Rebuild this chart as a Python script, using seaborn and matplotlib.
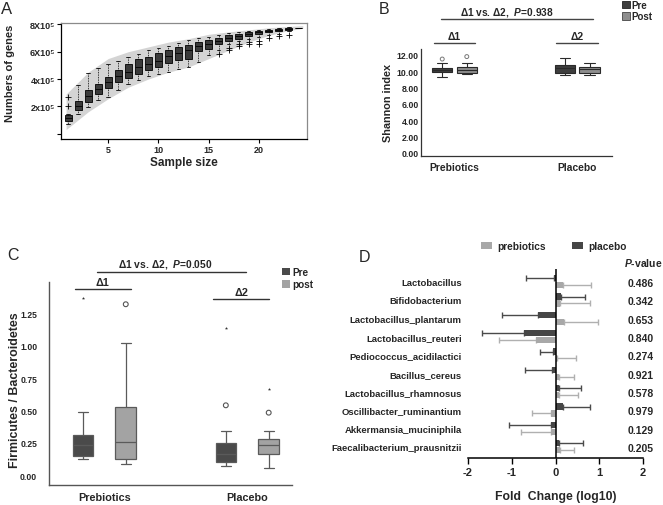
import numpy as np
import pandas as pd
import matplotlib
matplotlib.use("Agg")
import matplotlib.pyplot as plt
import seaborn as sns
from matplotlib.patches import Patch

# ---------------- Panel A data (numbers of genes, units of 1e5) ----------------
sample_size = list(range(1, 25))
a_lo  = [0.72, 1.46, 1.95, 2.45, 2.70, 3.20, 3.60, 3.90, 4.20, 4.40, 4.55, 4.70,
         4.88, 5.24, 5.75, 6.10, 6.58, 6.78, 6.95, 7.07, 7.19, 7.32, 7.50, 7.76]
a_q1  = [0.95, 1.71, 2.34, 2.88, 3.37, 3.80, 4.10, 4.40, 4.65, 4.90, 5.20, 5.36,
         5.49, 6.03, 6.22, 6.58, 6.78, 6.95, 7.12, 7.27, 7.41, 7.51, 7.60, 7.76]
a_med = [1.15, 2.00, 2.73, 3.30, 3.78, 4.20, 4.55, 4.85, 5.10, 5.35, 5.65, 5.90,
         6.10, 6.39, 6.58, 6.78, 7.00, 7.14, 7.30, 7.41, 7.50, 7.60, 7.68, 7.76]
a_q3  = [1.33, 2.39, 3.17, 3.66, 4.15, 4.63, 5.10, 5.45, 5.60, 5.90, 6.10, 6.34,
         6.46, 6.70, 6.88, 7.02, 7.20, 7.30, 7.44, 7.50, 7.60, 7.68, 7.75, 7.76]
a_hi  = [1.46, 3.54, 4.44, 4.80, 5.10, 5.35, 5.60, 5.85, 6.10, 6.25, 6.45, 6.65,
         6.83, 7.00, 7.10, 7.25, 7.40, 7.45, 7.55, 7.60, 7.68, 7.74, 7.80, 7.76]
a_out_size  = [1, 1, 16, 17, 17, 18, 18, 19, 19, 20, 20, 21, 22, 23]
a_out_genes = [2.00, 2.72, 5.80, 6.29, 6.10, 6.58, 6.39, 6.73, 6.58, 6.78, 6.58,
               6.97, 7.12, 7.22]
band_size = [0.8, 3, 5, 7, 9, 11, 13, 15, 17, 19, 21, 23, 24.4]
band_lo   = [0.30, 1.60, 2.56, 3.40, 4.00, 4.50, 4.88, 5.49, 6.10, 6.70, 7.19, 7.56, 7.70]
band_hi   = [2.90, 4.50, 5.50, 6.00, 6.35, 6.70, 6.95, 7.27, 7.45, 7.60, 7.75, 7.85, 7.90]
a_ytick_vals = [0, 2, 4, 6, 8]
a_ytick_labels = ["", "2x10\u2075", "4x10\u2075", "6X10\u2075", "8X10\u2075"]
a_xticks = [5, 10, 15, 20]

# ---------------- Panel B data (Shannon index) ----------------
groups = ["Prebiotics", "Placebo"]
b_group = ["Prebiotics", "Prebiotics", "Placebo", "Placebo"]
b_time  = ["Pre", "Post", "Pre", "Post"]
b_lo  = [9.25, 9.73, 9.60, 9.56]
b_q1  = [9.95, 9.85, 9.85, 9.85]
b_med = [10.20, 10.17, 10.38, 10.26]
b_q3  = [10.45, 10.58, 10.78, 10.58]
b_hi  = [11.00, 11.00, 11.60, 11.03]
b_out_group = ["Prebiotics", "Prebiotics"]
b_out_time  = ["Pre", "Post"]
b_out_val   = [11.5, 11.8]
b_yticks = [0, 2, 4, 6, 8, 10, 12]
b_title = "\u03941 vs. \u03942,  $\\mathit{P}$=0.938"

# ---------------- Panel C data (Firmicutes / Bacteroidetes) ----------------
c_group = ["Prebiotics", "Prebiotics", "Placebo", "Placebo"]
c_time  = ["Pre", "post", "Pre", "post"]
c_lo  = [0.121, 0.085, 0.070, 0.052]
c_q1  = [0.147, 0.121, 0.101, 0.165]
c_med = [0.230, 0.255, 0.160, 0.235]
c_q3  = [0.312, 0.526, 0.245, 0.276]
c_hi  = [0.487, 1.024, 0.343, 0.343]
c_circ_group = ["Prebiotics", "Placebo", "Placebo"]
c_circ_time  = ["post", "Pre", "post"]
c_circ_val   = [1.32, 0.539, 0.482]
c_star_group = ["Prebiotics", "Placebo", "Placebo"]
c_star_time  = ["Pre", "Pre", "post"]
c_star_val   = [1.372, 1.137, 0.665]
c_yticks = [0, 0.25, 0.5, 0.75, 1.0, 1.25]
c_title = "\u03941 vs. \u03942,  $\\mathit{P}$=0.050"

# ---------------- Panel D data (fold change, log10) ----------------
taxa = ["Lactobacillus", "Bifidobacterium", "Lactobacillus_plantarum",
        "Lactobacillus_reuteri", "Pediococcus_acidilactici", "Bacillus_cereus",
        "Lactobacillus_rhamnosus", "Oscillibacter_ruminantium",
        "Akkermansia_muciniphila", "Faecalibacterium_prausnitzii"]
fc_placebo    = [-0.03, 0.13, -0.40, -0.72, -0.06, -0.07, 0.07, 0.17, -0.11, 0.08]
err_placebo   = [0.65, 0.54, 0.82, 0.97, 0.30, 0.62, 0.51, 0.62, 0.96, 0.55]
fc_prebiotics = [0.17, 0.11, 0.20, -0.44, 0.03, 0.08, 0.07, -0.11, -0.11, 0.11]
err_prebiotics= [0.63, 0.68, 0.78, 0.86, 0.43, 0.34, 0.44, 0.42, 0.67, 0.32]
p_values = ["0.486", "0.342", "0.653", "0.840", "0.274", "0.921", "0.578",
            "0.979", "0.129", "0.205"]
d_xticks = [-2, -1, 0, 1, 2]

# ---------------- style ----------------
sns.set_theme(style="ticks")
plt.rcParams['font.family'] = ['Liberation Sans', 'DejaVu Sans']
plt.rcParams['font.weight'] = 'bold'
plt.rcParams['axes.unicode_minus'] = False
plt.rcParams['mathtext.fontset'] = 'custom'
plt.rcParams['mathtext.it'] = 'Liberation Sans:italic:bold'
plt.rcParams['mathtext.rm'] = 'Liberation Sans:bold'
plt.rcParams['mathtext.bf'] = 'Liberation Sans:bold'

W, H = 663, 506
fig = plt.figure(figsize=(W / 100, H / 100), dpi=100)
fig.patch.set_facecolor('white')


def add_ax(l, t, r, b):
    return fig.add_axes([l / W, 1 - b / H, (r - l) / W, (b - t) / H])


def ftext(x, y, s, **kw):
    return fig.text(x / W, 1 - y / H, s, **kw)


def five_num_frame(keys, cols, *stats):
    rows = []
    for i in range(len(stats[0])):
        for st in stats:
            rows.append(tuple(k[i] for k in keys) + (st[i],))
    return pd.DataFrame(rows, columns=cols)


def place_label(ax, axis, px, py, l, t, r, b):
    lab = ax.yaxis.label if axis == 'y' else ax.xaxis.label
    lab.set_verticalalignment('center')
    lab.set_horizontalalignment('center')
    coords = ((px - l) / (r - l), (b - py) / (b - t))
    (ax.yaxis if axis == 'y' else ax.xaxis).set_label_coords(*coords)


# ================= Panel A =================
A = (61, 24, 307, 140)
axA = add_ax(*A)
dfA = five_num_frame([sample_size], ["size", "genes"], a_lo, a_q1, a_med, a_q3, a_hi)
axA.fill_between(band_size, band_lo, band_hi, color='#d4d4d4', lw=0, zorder=0.5)
sns.boxplot(data=dfA, x="size", y="genes", native_scale=True, whis=(0, 100),
            width=0.72, color='#3a3a3a', saturation=1, linecolor='black',
            linewidth=0.6, fliersize=0,
            whiskerprops=dict(linestyle=(0, (1, 1))), ax=axA)
sns.scatterplot(x=a_out_size, y=a_out_genes, marker='+', color='black', s=14,
                linewidth=0.6, ax=axA, zorder=3)
axA.set_xlim(0.29, 24.82)
axA.set_ylim(-0.39, 8.1)
axA.set_yticks(a_ytick_vals)
axA.set_yticklabels(a_ytick_labels)
axA.set_xticks(a_xticks)
axA.set_xticklabels([str(v) for v in a_xticks])
axA.tick_params(axis='both', labelsize=6.5, length=3, width=0.8, pad=1.5, color='black')
for s in ['left', 'bottom']:
    axA.spines[s].set_color('black'); axA.spines[s].set_linewidth(0.9)
for s in ['top', 'right']:
    axA.spines[s].set_color('#8a8a8a'); axA.spines[s].set_linewidth(0.9)
axA.set_xlabel("Sample size", fontsize=8.5, fontweight='bold')
axA.set_ylabel("Numbers of genes", fontsize=8, fontweight='bold')
place_label(axA, 'x', 184, 163.5, *A)
place_label(axA, 'y', 10, 73, *A)
ftext(7, 9, "A", fontsize=12, fontweight='normal', ha='center', va='center')

# ================= Panel B =================
B = (421, 50, 612, 157)
axB = add_ax(*B)
dfB = five_num_frame([b_group, b_time], ["group", "time", "shannon"],
                     b_lo, b_q1, b_med, b_q3, b_hi)
wB = 0.4
sns.boxplot(data=dfB, x="group", y="shannon", hue="time", order=groups,
            hue_order=["Pre", "Post"], palette=['#3e3e3e', '#8e8e8e'],
            width=wB, gap=0.17, whis=(0, 100), saturation=1, linecolor='#2a2a2a',
            linewidth=0.8, fliersize=0, legend=False, ax=axB)
offB = {"Pre": -wB / 4, "Post": wB / 4}
bx = [groups.index(g) + offB[t] for g, t in zip(b_out_group, b_out_time)]
sns.scatterplot(x=bx, y=b_out_val, marker='o', facecolor='none', edgecolor='#777777',
                s=8, linewidth=0.7, ax=axB, zorder=3)
axB.set_xlim(-0.273, 1.283)
axB.set_ylim(-0.37, 12.73)
axB.set_yticks(b_yticks)
axB.set_yticklabels([f"{v:.2f}" for v in b_yticks])
axB.tick_params(axis='y', labelsize=6.3, length=0, pad=1.5)
axB.tick_params(axis='x', labelsize=7.4, length=0, pad=4)
sns.despine(ax=axB)
for s in ['left', 'bottom']:
    axB.spines[s].set_color('#333333'); axB.spines[s].set_linewidth(0.9)
axB.set_xlabel("")
axB.set_ylabel("Shannon index", fontsize=7.8, fontweight='bold')
place_label(axB, 'y', 388, 103, *B)
trB = axB.get_xaxis_transform()
for gi, lab in enumerate(["\u03941", "\u03942"]):
    axB.plot([gi - 0.17, gi + 0.17], [1.053, 1.053], color='#444444', lw=1,
             transform=trB, clip_on=False)
    axB.text(gi + 0.0, 1.118, lab, transform=trB, ha='center', va='center', fontsize=7.5)
axB.plot([-0.11, 1.125], [1.28, 1.28], color='#444444', lw=1, transform=trB, clip_on=False)
axB.text(0.43, 1.355, b_title, transform=trB, ha='center', va='center', fontsize=7.3)
fig.legend(handles=[Patch(facecolor='#3e3e3e', edgecolor='#222222', lw=0.6),
                    Patch(facecolor='#8e8e8e', edgecolor='#444444', lw=0.6)],
           labels=["Pre", "Post"], loc='upper left', bbox_to_anchor=(622 / W, 1 - 1 / H),
           frameon=False, fontsize=7, handlelength=0.8, handleheight=0.8,
           handletextpad=0.15, labelspacing=0.15, borderpad=0, borderaxespad=0)
ftext(384, 10, "B", fontsize=11.5, fontweight='normal', ha='center', va='center')

# ================= Panel C =================
C = (49, 283, 292, 486)
axC = add_ax(*C)
dfC = five_num_frame([c_group, c_time], ["group", "time", "ratio"],
                     c_lo, c_q1, c_med, c_q3, c_hi)
wC = 0.6
sns.boxplot(data=dfC, x="group", y="ratio", hue="time", order=groups,
            hue_order=["Pre", "post"], palette=['#4a4a4a', '#a3a3a3'],
            width=wC, gap=0.52, whis=(0, 100), saturation=1, linecolor='#5a5a5a',
            linewidth=0.9, fliersize=0, legend=False, ax=axC)
offC = {"Pre": -wC / 4, "post": wC / 4}
cx = [groups.index(g) + offC[t] for g, t in zip(c_circ_group, c_circ_time)]
sns.scatterplot(x=cx, y=c_circ_val, marker='o', facecolor='none', edgecolor='#555555',
                s=12, linewidth=0.8, ax=axC, zorder=3)
sx = [groups.index(g) + offC[t] for g, t in zip(c_star_group, c_star_time)]
sns.scatterplot(x=sx, y=c_star_val, marker='*', color='#333333', s=6,
                linewidth=0, ax=axC, zorder=3)
axC.set_xlim(-0.387, 1.313)
axC.set_ylim(-0.077, 1.492)
axC.set_yticks(c_yticks)
axC.set_yticklabels([f"{v:.2f}" for v in c_yticks])
axC.tick_params(axis='y', labelsize=6.2, length=0, pad=8.5)
axC.tick_params(axis='x', labelsize=7.8, length=0, pad=5)
sns.despine(ax=axC)
for s in ['left', 'bottom']:
    axC.spines[s].set_color('#555555'); axC.spines[s].set_linewidth(1.0)
axC.set_xlabel("")
axC.set_ylabel("Firmicutes / Bacteroidetes", fontsize=8.9, fontweight='bold')
place_label(axC, 'y', 15, 390, *C)
trC = axC.get_xaxis_transform()
axC.plot([-0.205, 0.185], [0.964, 0.964], color='#333333', lw=1, transform=trC, clip_on=False)
axC.text(-0.011, 0.999, "\u03941", transform=trC, ha='center', va='center', fontsize=7.8)
axC.plot([0.762, 1.154], [0.915, 0.915], color='#333333', lw=1, transform=trC, clip_on=False)
axC.text(0.961, 0.950, "\u03942", transform=trC, ha='center', va='center', fontsize=7.8)
axC.plot([-0.053, 0.989], [1.049, 1.049], color='#333333', lw=1, transform=trC, clip_on=False)
axC.text(0.429, 1.089, c_title, transform=trC, ha='center', va='center', fontsize=7.4)
fig.legend(handles=[Patch(facecolor='#4a4a4a', edgecolor='none'),
                    Patch(facecolor='#a3a3a3', edgecolor='none')],
           labels=["Pre", "post"], loc='upper left', bbox_to_anchor=(282 / W, 1 - 268 / H),
           frameon=False, fontsize=7.2, handlelength=0.75, handleheight=0.8,
           handletextpad=0.3, labelspacing=0.25, borderpad=0, borderaxespad=0)
ftext(13, 255, "C", fontsize=11.5, fontweight='normal', ha='center', va='center')

# ================= Panel D =================
D = (468, 270, 643, 459)
axD = add_ax(*D)
dfD = pd.DataFrame({
    "taxon": taxa * 2,
    "fc": fc_placebo + fc_prebiotics,
    "group": ["placebo"] * len(taxa) + ["prebiotics"] * len(taxa),
})
wD = 0.75
colD = {"placebo": '#464646', "prebiotics": '#a8a8a8'}
ecolD = {"placebo": '#4a4a4a', "prebiotics": '#b0b0b0'}
sns.barplot(data=dfD, x="fc", y="taxon", hue="group", order=taxa,
            hue_order=["placebo", "prebiotics"], palette=colD, orient='h',
            width=wD, gap=0.1, errorbar=None, saturation=1, linewidth=0,
            legend=False, ax=axD, zorder=2)
pos = np.arange(len(taxa))
for grp, fc, err, off in [("placebo", fc_placebo, err_placebo, -wD / 4),
                          ("prebiotics", fc_prebiotics, err_prebiotics, wD / 4)]:
    fc = np.array(fc); err = np.array(err)
    lower = np.where(fc < 0, err, 0)
    upper = np.where(fc >= 0, err, 0)
    axD.errorbar(fc, pos + off, xerr=[lower, upper], fmt='none', ecolor=ecolD[grp],
                 elinewidth=1.0, capsize=2, capthick=1.0, zorder=1.5)
axD.axvline(0, color='black', lw=1.1, zorder=3)
axD.set_xlim(-2, 2)
axD.set_ylim(9.62, -0.69)
axD.set_xticks(d_xticks)
axD.set_xticklabels([str(v) for v in d_xticks])
axD.tick_params(axis='x', labelsize=8, length=4, width=1, pad=2.5, color='black')
axD.tick_params(axis='y', labelsize=6.8, length=0, pad=4.5)
for s in ['top', 'right', 'left']:
    axD.spines[s].set_visible(False)
axD.spines['bottom'].set_color('black'); axD.spines['bottom'].set_linewidth(1.1)
axD.set_ylabel("")
axD.set_xlabel("Fold  Change (log10)", fontsize=8.8, fontweight='bold')
place_label(axD, 'x', 556, 497, *D)
trD = axD.get_yaxis_transform()
for i, p in enumerate(p_values):
    axD.text(0.985, i + 0.08, p, transform=trD, ha='center', va='center', fontsize=7.5,
             clip_on=False)
axD.text(1.0, -1.09, "$\\mathit{P}$-value", transform=trD, ha='center', va='center',
         fontsize=7.5, clip_on=False)
fig.legend(handles=[Patch(facecolor=colD["prebiotics"], edgecolor='none'),
                    Patch(facecolor=colD["placebo"], edgecolor='none')],
           labels=["prebiotics", "placebo"], loc='center left',
           bbox_to_anchor=(481 / W, 1 - 247 / H), ncol=2, frameon=False, fontsize=7.3,
           handlelength=1.1, handleheight=0.6, handletextpad=0.5, columnspacing=2.6,
           borderpad=0, borderaxespad=0)
ftext(364, 258, "D", fontsize=11.5, fontweight='normal', ha='center', va='center')

fig.savefig("out.png", dpi=100, facecolor='white')
